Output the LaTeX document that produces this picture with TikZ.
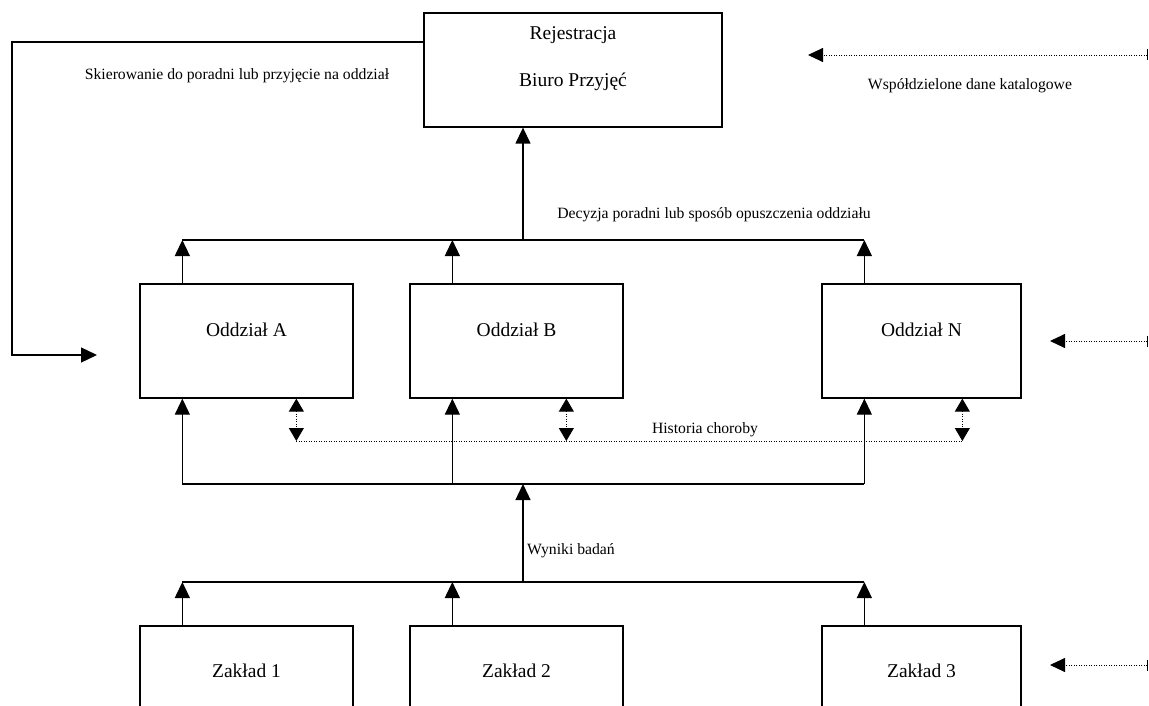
\documentclass[tikz,border=0pt]{standalone}
\usepackage{fontspec}
\setmainfont{Liberation Serif}
\usetikzlibrary{arrows.meta,positioning,calc}

\begin{document}
\begin{tikzpicture}[x=1pt,y=-1pt,line width=1.3pt,
    box/.style={draw,minimum width=213pt,minimum height=114pt,inner sep=0pt},
    boxtxt/.style={font=\fontsize{19.5}{22}\selectfont,inner sep=0pt},
    lbl/.style={font=\fontsize{15.7}{18}\selectfont,inner sep=0pt},
    arr/.style={-{Triangle[length=16pt,width=15pt]}},
    dbl/.style={dash pattern=on 1pt off 1.5pt,line width=1pt,{Triangle[length=13pt,width=15pt]}-{Triangle[length=13pt,width=15pt]}},
    dots/.style={dash pattern=on 1pt off 1.5pt,line width=0.9pt},
    ext/.style={dots,{Bar[width=11pt,line width=1pt]}-{Triangle[length=15pt,width=14pt]}}]
    % Ramka rysunku
    \useasboundingbox (0,0) rectangle (1149,706);
    \clip (0,0) rectangle (1149,706);

    % Rejestracja
    \node[box,minimum width=298pt] (rej) at (573,70) {};
    \node[boxtxt] (rejT) at ([yshift=35pt]rej.center) {Rejestracja};
    \node[boxtxt] (rejB) at ([yshift=-12pt]rej.center) {Biuro Przyjęć};

    % Oddziały
    \node[box] (oddzA) at (246.5,341) {};
    \node[box] (oddzB) at (516.5,341) {};
    \node[box,minimum width=199pt] (oddzN) at (921.5,341) {};
    \node[boxtxt] (oddzAT) at ([yshift=11pt]oddzA.center) {Oddział A};
    \node[boxtxt] (oddzBT) at ([yshift=11pt]oddzB.center) {Oddział B};
    \node[boxtxt] (oddzNT) at ([yshift=11pt]oddzN.center) {Oddział N};

    % Zakłady
    \node[box] (zakl1) at (246.5,683) {};
    \node[box] (zakl2) at (516.5,683) {};
    \node[box,minimum width=199pt] (zakl3) at (921.5,683) {};
    \node[boxtxt] (zakl1T) at ([yshift=12pt]zakl1.center) {Zakład 1};
    \node[boxtxt] (zakl2T) at ([yshift=12pt]zakl2.center) {Zakład 2};
    \node[boxtxt] (zakl3T) at ([yshift=12pt]zakl3.center) {Zakład 3};

    % Punkty pomocnicze
    \coordinate (stemA) at ([xshift=43pt]oddzA.north west);
    \coordinate (stemB) at ([xshift=43pt]oddzB.north west);
    \coordinate (stemN) at ([xshift=43pt]oddzN.north west);
    \coordinate (histA) at ([xshift=157pt]oddzA.south west);
    \coordinate (histB) at ([xshift=157pt]oddzB.south west);
    \coordinate (histN) at ([xshift=141pt]oddzN.south west);
    \coordinate (busUp) at (523,240);
    \coordinate (busDn) at (523,484);
    \coordinate (busZ) at (523,582);
    \coordinate (histLine) at (0,441);
    \coordinate (skTurn) at (12,355);
    \coordinate (skTip) at (97,355);

    % Skierowanie
    \draw[arr] ([yshift=28pt]rej.west) -| (skTurn) -- (skTip);
    \node[lbl] (skLbl) at (237,76) {Skierowanie do poradni lub przyjęcie na oddział};

    % Decyzja
    \draw[arr] (busUp) -- (busUp |- rej.south);
    \draw (stemA |- busUp) -- (stemN |- busUp);
    \foreach \s in {stemA,stemB,stemN}
        \draw[arr] (\s) -- (\s |- busUp);
    \node[lbl] (decLbl) at (714,215) {Decyzja poradni lub sposób opuszczenia oddziału};

    % Historia choroby
    \foreach \h in {histA,histB,histN}
        \draw[dbl] (\h) -- (\h |- histLine);
    \draw[dots] (histA |- histLine) -- (histN |- histLine);
    \node[lbl] (histLbl) at (705,430) {Historia choroby};

    % Wyniki badań
    \draw (stemA |- busDn) -- (stemN |- busDn);
    \foreach \s/\o in {stemA/oddzA,stemB/oddzB,stemN/oddzN}
        \draw[arr] (\s |- busDn) -- (\s |- \o.south);
    \draw[arr] (busZ) -- (busDn);
    \draw (stemA |- busZ) -- (stemN |- busZ);
    \foreach \s/\z in {stemA/zakl1,stemB/zakl2,stemN/zakl3}
        \draw[arr] (\s |- \z.north) -- (\s |- busZ);
    \node[lbl] (wynLbl) at (571,551) {Wyniki badań};

    % Dane katalogowe
    \coordinate (katSrc) at (1148,55);
    \coordinate (katTip) at (808,55);
    \coordinate (katN) at (1148,341);
    \coordinate (katNTip) at (1050,341);
    \coordinate (katZ) at (1148,665);
    \coordinate (katZTip) at (1050,665);
    \draw[ext] (katSrc) -- (katTip);
    \draw[ext] (katN) -- (katNTip);
    \draw[ext] (katZ) -- (katZTip);
    \node[lbl] (katLbl) at (970,86) {Współdzielone dane katalogowe};
\end{tikzpicture}
\end{document}
